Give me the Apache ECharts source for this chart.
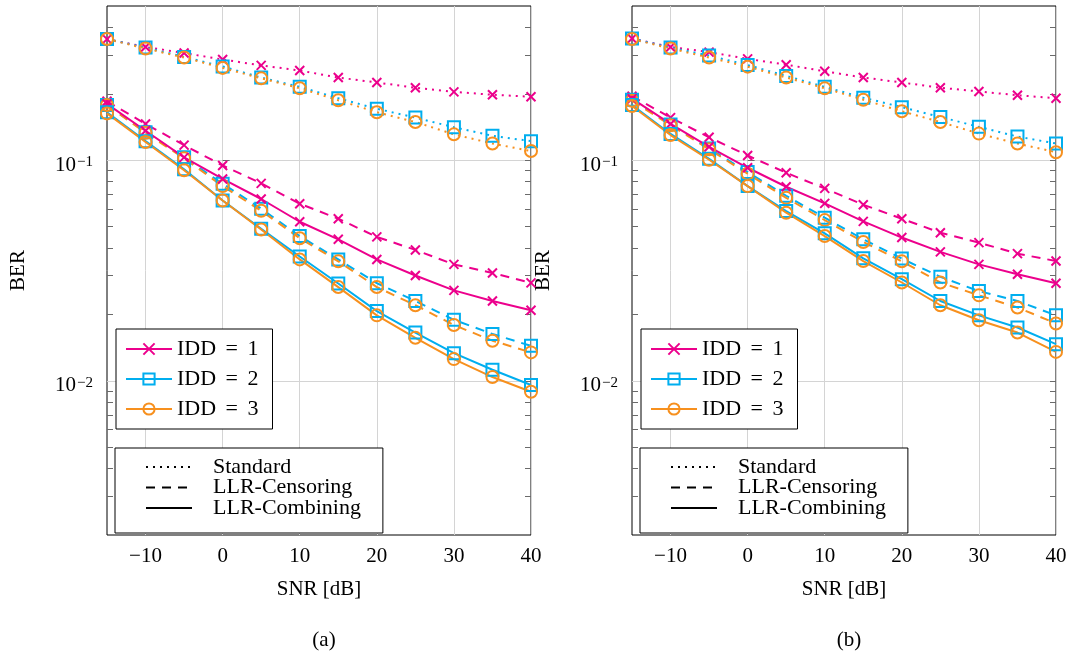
<!DOCTYPE html>
<html><head><meta charset="utf-8">
<script src="https://cdn.jsdelivr.net/npm/echarts@6/dist/echarts.min.js"></script>
<style>html,body{margin:0;padding:0;background:#fff}#c{width:1070px;height:660px}</style>
</head><body><div id="c"></div>
<script>
// ---------- data ----------
const snr = [-15, -10, -5, 0, 5, 10, 15, 20, 25, 30, 35, 40];
const xTicks = [-10, 0, 10, 20, 30, 40];
const yMajorTicks = [0.01, 0.1];
const yMinorTicks = [0.003, 0.004, 0.005, 0.006, 0.007, 0.008, 0.009,
                     0.02, 0.03, 0.04, 0.05, 0.06, 0.07, 0.08, 0.09,
                     0.2, 0.3, 0.4];
const panelLabels = ['(a)', '(b)'];
const iddNames = ['IDD = 1', 'IDD = 2', 'IDD = 3'];
const methodNames = ['Standard', 'LLR-Censoring', 'LLR-Combining'];

// panel (a)
const a_std_idd1 = [0.354, 0.326, 0.306, 0.286, 0.269, 0.255, 0.237, 0.225, 0.213, 0.204, 0.198, 0.194];
const a_std_idd2 = [0.354, 0.324, 0.294, 0.266, 0.237, 0.215, 0.191, 0.171, 0.156, 0.141, 0.129, 0.122];
const a_std_idd3 = [0.354, 0.321, 0.292, 0.262, 0.235, 0.212, 0.187, 0.165, 0.149, 0.131, 0.119, 0.110];
const a_cen_idd1 = [0.185, 0.146, 0.117, 0.0946, 0.0785, 0.0635, 0.0543, 0.0449, 0.0392, 0.0337, 0.0308, 0.0278];
const a_cen_idd2 = [0.178, 0.134, 0.103, 0.0782, 0.0603, 0.0453, 0.0355, 0.0277, 0.0230, 0.0189, 0.0163, 0.0144];
const a_cen_idd3 = [0.178, 0.133, 0.102, 0.0763, 0.0590, 0.0443, 0.0348, 0.0266, 0.0220, 0.0179, 0.0152, 0.01345];
const a_com_idd1 = [0.180, 0.136, 0.103, 0.0822, 0.0667, 0.0526, 0.0438, 0.0355, 0.0300, 0.0257, 0.0230, 0.0209];
const a_com_idd2 = [0.165, 0.122, 0.091, 0.0657, 0.0489, 0.0366, 0.0276, 0.0207, 0.01655, 0.01334, 0.01122, 0.00957];
const a_com_idd3 = [0.163, 0.121, 0.090, 0.0657, 0.0485, 0.0355, 0.0266, 0.0198, 0.01566, 0.01254, 0.0104, 0.00892];

// panel (b)
const b_std_idd1 = [0.356, 0.326, 0.309, 0.288, 0.271, 0.253, 0.237, 0.225, 0.213, 0.205, 0.197, 0.191];
const b_std_idd2 = [0.356, 0.324, 0.298, 0.270, 0.241, 0.215, 0.192, 0.174, 0.157, 0.1416, 0.128, 0.119];
const b_std_idd3 = [0.354, 0.321, 0.292, 0.2655, 0.237, 0.212, 0.188, 0.1666, 0.149, 0.132, 0.119, 0.1087];
const b_cen_idd1 = [0.195, 0.156, 0.127, 0.105, 0.0877, 0.0745, 0.0628, 0.0543, 0.0469, 0.0423, 0.0377, 0.0349];
const b_cen_idd2 = [0.188, 0.145, 0.113, 0.0883, 0.069, 0.0549, 0.0438, 0.0358, 0.0296, 0.0255, 0.0230, 0.0198];
const b_cen_idd3 = [0.186, 0.144, 0.112, 0.0868, 0.0675, 0.0535, 0.0426, 0.0348, 0.0279, 0.0244, 0.0215, 0.0182];
const b_com_idd1 = [0.190, 0.146, 0.115, 0.0924, 0.0758, 0.0637, 0.0528, 0.0446, 0.0384, 0.0337, 0.0304, 0.0277];
const b_com_idd2 = [0.178, 0.1315, 0.1015, 0.0763, 0.0588, 0.0466, 0.0359, 0.0289, 0.0230, 0.0198, 0.01744, 0.01466];
const b_com_idd3 = [0.176, 0.130, 0.1005, 0.0763, 0.0578, 0.0453, 0.0349, 0.0279, 0.0220, 0.01882, 0.01655, 0.01352];

// ---------- styling ----------
const FONT = '"Liberation Serif", "Times New Roman", serif';
const FS = 21;
const LFS = 22;
const COLORS = ['#ec008c', '#00aeef', '#f7901e'];
const SYMBOLS = ['path://M0,0L10,10M10,0L0,10', 'rect', 'circle'];
const SYMSIZE = [9, 12, 12];
const LINETYPES = [[2, 5], [9, 7], 'solid'];
const GRIDCOLOR = '#d4d4d4';
const TICKCOLOR = '#6a6a6a';

const panels = [
  { left: 107, std: [a_std_idd1, a_std_idd2, a_std_idd3], cen: [a_cen_idd1, a_cen_idd2, a_cen_idd3], com: [a_com_idd1, a_com_idd2, a_com_idd3] },
  { left: 632, std: [b_std_idd1, b_std_idd2, b_std_idd3], cen: [b_cen_idd1, b_cen_idd2, b_cen_idd3], com: [b_com_idd1, b_com_idd2, b_com_idd3] }
];
const PW = 424, PT = 6, PH = 529;

const grids = [], xAxes = [], yAxes = [], series = [], legends = [], titles = [];

function expLabel(v) {
  const e = Math.round(Math.log10(v));
  return '{b|10}{s|' + (e < 0 ? '\u2212' : '') + Math.abs(e) + '}';
}

panels.forEach((p, pi) => {
  grids.push({ left: p.left, top: PT, width: PW, height: PH, show: true, borderColor: '#000', borderWidth: 1, backgroundColor: '#fff' });
  xAxes.push({
    type: 'value', gridIndex: pi, min: -15, max: 40,
    axisLine: { show: false },
    axisTick: { show: false, customValues: xTicks },
    axisLabel: { customValues: xTicks, margin: 11, color: '#000', fontFamily: FONT, fontSize: FS,
      formatter: v => (v < 0 ? '\u2212' + Math.abs(v) : String(v)) },
    splitLine: { show: true, lineStyle: { color: GRIDCOLOR, width: 1 } },
    name: 'SNR [dB]', nameLocation: 'middle', nameGap: 44,
    nameTextStyle: { color: '#000', fontFamily: FONT, fontSize: FS }
  });
  const yBase = { type: 'log', logBase: 10, gridIndex: pi, min: 0.002, max: 0.5 };
  yAxes.push(Object.assign({}, yBase, {
    position: 'left',
    axisLine: { show: false },
    axisTick: { show: true, inside: true, length: 7, customValues: yMajorTicks, lineStyle: { color: TICKCOLOR } },
    axisLabel: { customValues: yMajorTicks, margin: 14, formatter: expLabel, padding: [10, 0, 0, 0],
      rich: {
        b: { fontFamily: FONT, fontSize: FS, color: '#000', verticalAlign: 'bottom', lineHeight: 21, padding: [5, 0, 0, 0] },
        s: { fontFamily: FONT, fontSize: 15, color: '#000', verticalAlign: 'top', lineHeight: 16, padding: [0, 0, 0, 1] }
      } },
    splitLine: { show: true, lineStyle: { color: GRIDCOLOR, width: 1 } },
    name: 'BER', nameLocation: 'middle', nameGap: 78,
    nameTextStyle: { color: '#000', fontFamily: FONT, fontSize: FS }
  }));
  yAxes.push(Object.assign({}, yBase, {
    position: 'left',
    axisLine: { show: false },
    axisTick: { show: true, inside: true, length: 6, customValues: yMinorTicks, lineStyle: { color: TICKCOLOR } },
    axisLabel: { show: false }, splitLine: { show: false }
  }));
  yAxes.push(Object.assign({}, yBase, {
    position: 'right',
    axisLine: { show: false },
    axisTick: { show: true, inside: true, length: 6, customValues: yMinorTicks.concat(yMajorTicks), lineStyle: { color: TICKCOLOR } },
    axisLabel: { show: false }, splitLine: { show: false }
  }));

  const groups = [['std', 0], ['cen', 1], ['com', 2]];
  groups.forEach(([key, mi]) => {
    p[key].forEach((vals, i) => {
      series.push({
        type: 'line',
        name: mi === 2 ? iddNames[i] : iddNames[i] + ' ' + methodNames[mi],
        xAxisIndex: pi, yAxisIndex: pi * 3,
        data: snr.map((x, j) => [x, vals[j]]),
        symbol: SYMBOLS[i], symbolSize: SYMSIZE[i], showSymbol: true,
        lineStyle: { color: COLORS[i], width: 2, type: LINETYPES[mi] },
        itemStyle: { color: 'rgba(0,0,0,0)', borderColor: COLORS[i], borderWidth: 2 },
        emphasis: { disabled: true },
        animation: false
      });
    });
  });

  legends.push({
    left: p.left + 9, top: 329, orient: 'vertical', selectedMode: false,
    data: iddNames, itemWidth: 46, itemHeight: 14, itemGap: 8,
    padding: [9, 14, 9, 9], borderColor: '#000', borderWidth: 1, backgroundColor: '#fff',
    formatter: name => '{t|' + name.replace(' = ', '}{e| = }{t|') + '}',
    textStyle: { fontFamily: FONT, fontSize: LFS, color: '#000', lineHeight: 22,
      rich: {
        t: { fontFamily: FONT, fontSize: LFS, color: '#000', lineHeight: 22 },
        e: { fontFamily: FONT, fontSize: LFS, color: '#000', lineHeight: 22, padding: [0, 4, 0, 4] }
      } }
  });
  legends.push({
    left: p.left + 8, top: 448, orient: 'vertical', selectedMode: false,
    data: methodNames, itemWidth: 46, itemHeight: 14, itemGap: -1.5,
    padding: [8, 22, 14, 30], borderColor: '#000', borderWidth: 1, backgroundColor: '#fff',
    formatter: '{t|{name}}',
    textStyle: { fontFamily: FONT, fontSize: LFS, color: '#000', lineHeight: 20,
      rich: { t: { fontFamily: FONT, fontSize: LFS, color: '#000', lineHeight: 20, height: 20, padding: [0, 0, 0, 16] } } }
  });
  titles.push({
    text: panelLabels[pi], left: p.left + PW / 2, top: 625, textAlign: 'center',
    textStyle: { fontFamily: FONT, fontSize: FS, fontWeight: 'normal', color: '#000' }
  });
});

// legend-only series for line styles
methodNames.forEach((n, mi) => {
  series.push({
    type: 'line', name: n, xAxisIndex: 0, yAxisIndex: 0, data: [],
    symbol: 'none',
    lineStyle: { color: '#000', width: 2, type: LINETYPES[mi] },
    itemStyle: { color: 'rgba(0,0,0,0)', borderWidth: 0 }
  });
});

const chart = echarts.init(document.getElementById('c'), null, { renderer: 'canvas' });
chart.setOption({
  animation: false,
  backgroundColor: '#fff',
  title: titles,
  grid: grids,
  xAxis: xAxes,
  yAxis: yAxes,
  legend: legends,
  series: series
});
</script>
</body></html>
